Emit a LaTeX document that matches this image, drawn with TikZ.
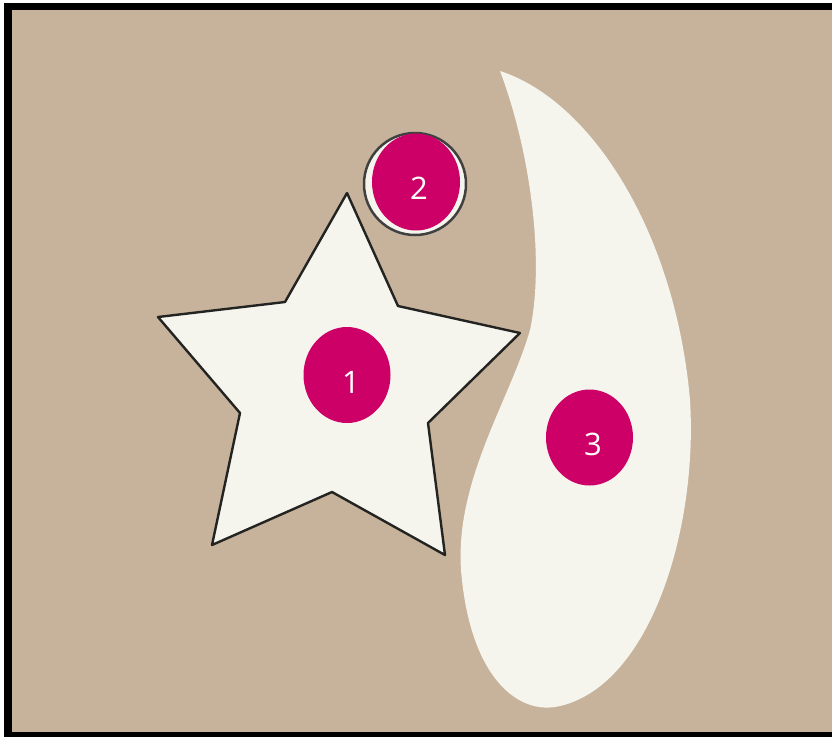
\documentclass[tikz,border=0pt]{standalone}
\usepackage{fontspec}
\setmainfont{Open Sans}
\usetikzlibrary{shapes.geometric}
\definecolor{tan}{RGB}{199,179,155}
\definecolor{paper}{RGB}{245,245,238}
\definecolor{badgec}{RGB}{204,0,102}
\definecolor{edge}{RGB}{35,35,33}
\begin{document}
\begin{tikzpicture}[x=1pt,y=-1pt,
  badge/.style={ellipse,fill=badgec,draw=none,inner sep=0pt,minimum width=87pt,minimum height=96pt},
  numtext/.style={text=white,font=\fontsize{31}{31}\selectfont,inner sep=0pt},
  outline/.style={draw=edge,line width=2.4pt,line join=round}]
\useasboundingbox (0,0) rectangle (832,737);
\fill[white] (0,0) rectangle (832,737);
\fill[black] (4,3) rectangle (832,737);
\fill[tan] (12,10) rectangle (832,732);
% teardrop 3
\fill[paper] (500,71) .. controls (590,100) and (675,230) .. (690,400)
  .. controls (698,530) and (650,685) .. (560,706)
  .. controls (520,716) and (470,680) .. (461,570)
  .. controls (455,480) and (510,400) .. (530,330)
  .. controls (545,260) and (530,150) .. (500,71) -- cycle;
% star
\filldraw[fill=paper,outline] (347,193) -- (398,306) -- (520,333) -- (428,423) -- (445,555) -- (332,492) -- (212,545) -- (240,413) -- (158,317) -- (285,302) -- cycle;
% ring for 2
\node[circle,fill=paper,draw=black!75,line width=2.5pt,minimum size=102pt,inner sep=0pt] (r2) at (415,184) {};
% badges
\node[badge] (b1) at (347,375) {};
\node[numtext] (t1) at (351,382) {1};
\node[badge,minimum width=88pt,minimum height=97pt] (b2) at (416,182) {};
\node[numtext] (t2) at (419,188) {2};
\node[badge] (b3) at (589.5,437.5) {};
\node[numtext] (t3) at (593,444) {3};
\end{tikzpicture}
\end{document}
